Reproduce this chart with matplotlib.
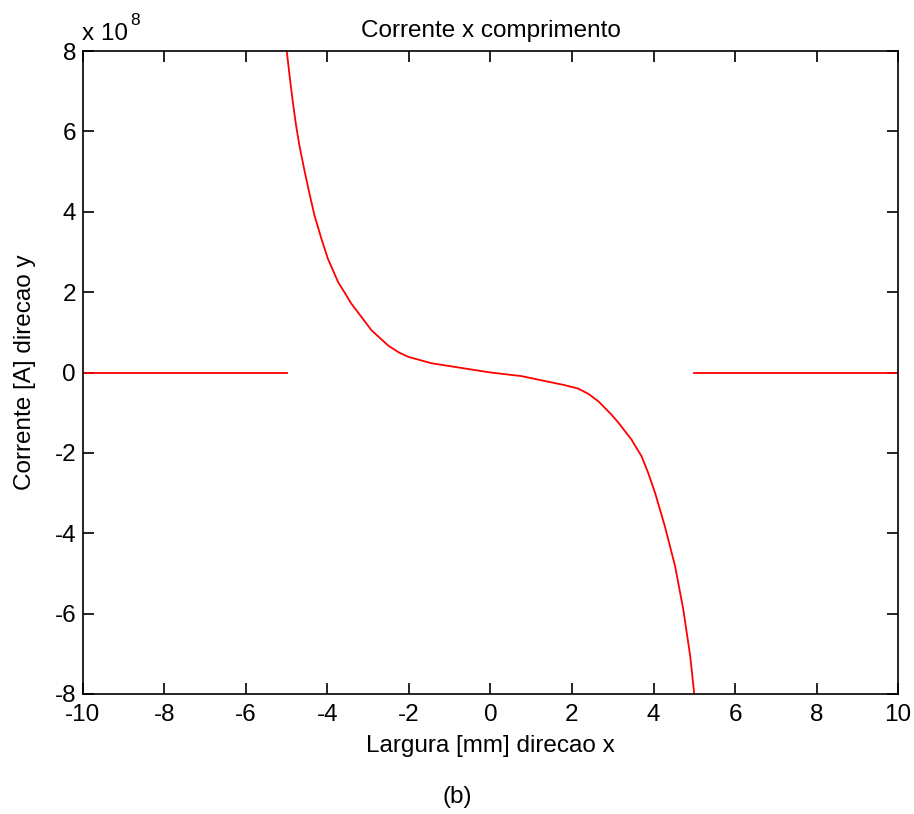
import matplotlib
matplotlib.use('Agg')
import numpy as np
from matplotlib import pyplot as plt

plt.rcParams['font.family'] = ['Liberation Sans', 'DejaVu Sans']

# valores (corrente em unidades de 1e8 A)
x_esq = [-10, -5]
y_esq = [0, 0]

x_curva = [-5.0, -4.93, -4.85, -4.77, -4.69, -4.56, -4.44, -4.32, -4.15, -3.99,
           -3.74, -3.58, -3.42, -3.09, -2.92, -2.51, -2.25, -2.02, -1.45, -0.88,
           -0.63, 0.0, 0.76, 1.42, 1.80, 2.15, 2.40, 2.65, 2.97, 3.14,
           3.46, 3.71, 3.87, 4.04, 4.28, 4.53, 4.73, 4.90, 5.0]
y_curva = [8.0, 7.38, 6.72, 6.14, 5.65, 5.00, 4.44, 3.91, 3.33, 2.83,
           2.25, 1.99, 1.72, 1.28, 1.05, 0.67, 0.50, 0.39, 0.23, 0.14,
           0.10, 0.0, -0.09, -0.23, -0.31, -0.40, -0.53, -0.72, -1.05, -1.25,
           -1.67, -2.09, -2.50, -3.0, -3.83, -4.82, -5.89, -7.05, -8.0]

x_dir = [5, 10]
y_dir = [0, 0]

x_ticks = [-10, -8, -6, -4, -2, 0, 2, 4, 6, 8, 10]
y_ticks = [-8, -6, -4, -2, 0, 2, 4, 6, 8]

fs = 17.5

fig = plt.figure(figsize=(9.14, 8.14), dpi=100)
ax = fig.add_axes([83 / 914, 1 - 694 / 814, 815 / 914, 643 / 814])

ax.plot(x_esq, y_esq, color='red', lw=1.3)
ax.plot(x_curva, y_curva, color='red', lw=1.3)
ax.plot(x_dir, y_dir, color='red', lw=1.3)

ax.set_xlim(-10, 10)
ax.set_ylim(-8, 8)
ax.set_xticks(x_ticks)
ax.set_yticks(y_ticks)
ax.set_xticklabels([str(t) for t in x_ticks])
ax.set_yticklabels([str(t) for t in y_ticks])
ax.tick_params(direction='in', length=8, width=1.2, top=True, right=True,
               labelsize=fs)
ax.tick_params(axis='x', pad=7)
ax.tick_params(axis='y', pad=5)
for s in ax.spines.values():
    s.set_linewidth(1.2)

ax.set_title('Corrente x comprimento', fontsize=fs, pad=10)
ax.set_xlabel('Largura [mm] direcao x', fontsize=fs, labelpad=7)
ax.set_ylabel('Corrente [A] direcao y', fontsize=fs, labelpad=13)

# fator de escala no estilo do matlab
fig.text(82 / 914, 1 - 40 / 814, 'x 10', fontsize=fs, va='baseline', ha='left')
fig.text(130 / 914, 1 - 25 / 814, '8', fontsize=12.5, va='baseline', ha='left')

fig.text(0.5, 1 - 797 / 814, '(b)', fontsize=fs, ha='center', va='center')

plt.savefig('out.png', dpi=100)
